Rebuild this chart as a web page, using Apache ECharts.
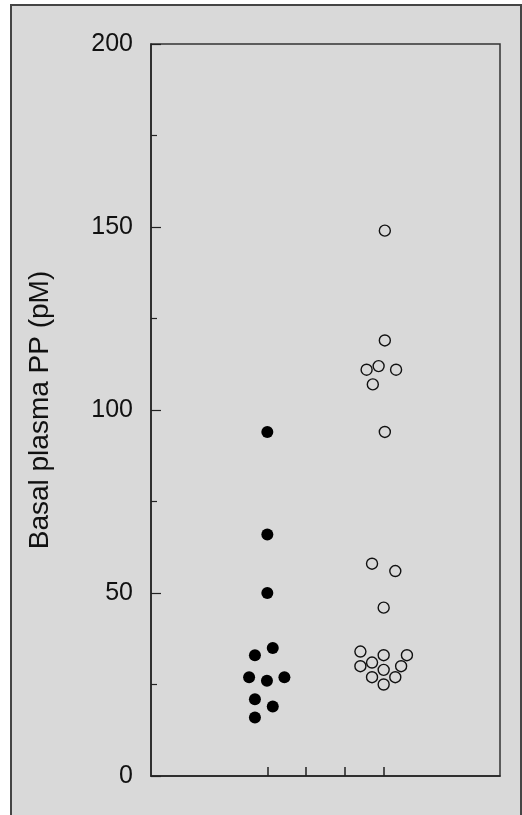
<!DOCTYPE html>
<html>
<head>
<meta charset="utf-8">
<script src="https://cdn.jsdelivr.net/npm/echarts@6/dist/echarts.min.js"></script>
<style>
html,body{margin:0;padding:0;background:#ffffff;width:522px;height:815px;overflow:hidden;}
#frame{position:absolute;left:10px;top:4px;width:508px;height:830px;background:#d9d9d9;border:2px solid #454545;}
#chart{position:absolute;left:0;top:0;width:522px;height:815px;}
</style>
</head>
<body>
<div id="frame"></div>
<div id="chart"></div>
<script>
// Group positions on x (axis 0..9), jitter included
const filledX = [3.0, 3.0, 3.0, 3.14, 2.68, 2.53, 2.99, 3.44, 2.68, 3.14, 2.68];
const filledY = [94, 66, 50, 35, 33, 27, 26, 27, 21, 19, 16];
const openX = [6.03, 6.03, 5.56, 5.87, 6.32, 5.72, 6.03, 5.70, 6.30, 6.0, 5.40, 6.0, 6.60, 5.40, 5.70, 6.45, 6.0, 5.70, 6.30, 6.0];
const openY = [149, 119, 111, 112, 111, 107, 94, 58, 56, 46, 34, 33, 33, 30, 31, 30, 29, 27, 27, 25];
const xTicks = [3, 4, 5, 6];
const yTitle = 'Basal plasma PP (pM)';

const zip = (xs, ys) => xs.map((x, i) => [x, ys[i]]);

const chart = echarts.init(document.getElementById('chart'), null, {renderer: 'canvas'});
chart.setOption({
  animation: false,
  backgroundColor: 'transparent',
  grid: {left: 151, top: 44, right: 22, bottom: 39, show: true, borderColor: '#333', borderWidth: 1.5, backgroundColor: 'transparent'},
  xAxis: {
    type: 'value', min: 0, max: 9,
    axisLine: {show: true, lineStyle: {color: '#222', width: 1.5}},
    axisTick: {show: true, inside: true, length: 9, customValues: xTicks, lineStyle: {color: '#222', width: 1.5}},
    axisLabel: {show: false},
    splitLine: {show: false}
  },
  yAxis: {
    type: 'value', min: 0, max: 200, interval: 50,
    name: yTitle, nameLocation: 'middle', nameGap: 97,
    nameTextStyle: {fontFamily: 'Liberation Sans, Arial, sans-serif', fontSize: 28, color: '#111'},
    axisLine: {show: true, lineStyle: {color: '#222', width: 1.5}},
    axisTick: {show: true, inside: true, length: 10, lineStyle: {color: '#222', width: 1.2}},
    minorTick: {show: true, splitNumber: 2, length: 6, lineStyle: {color: '#222', width: 1.2}},
    axisLabel: {margin: 18, fontFamily: 'Liberation Sans, Arial, sans-serif', fontSize: 25, color: '#111'},
    splitLine: {show: false}
  },
  series: [
    {type: 'scatter', data: zip(filledX, filledY), symbol: 'circle', symbolSize: 12,
     itemStyle: {color: '#000', opacity: 1}},
    {type: 'scatter', data: zip(openX, openY), symbol: 'circle', symbolSize: 11,
     itemStyle: {color: 'transparent', borderColor: '#111', borderWidth: 1.4, opacity: 1}}
  ]
});
</script>
</body>
</html>
